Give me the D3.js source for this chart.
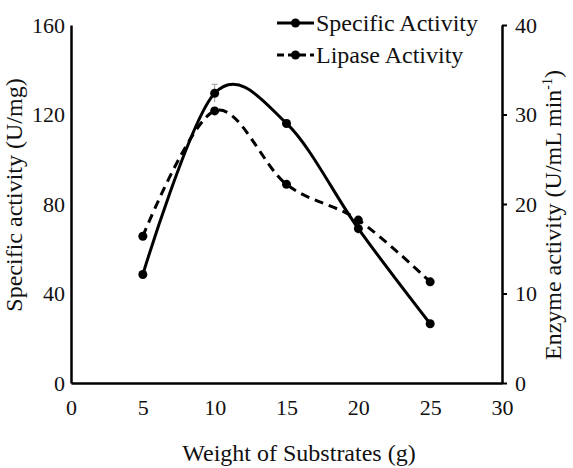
<!DOCTYPE html>
<html>
<head>
<meta charset="utf-8">
<script src="https://cdn.jsdelivr.net/npm/d3@7"></script>
<style>
  body { margin: 0; background: #fff; }
</style>
</head>
<body>
<script>
// data
const weights = [5, 10, 15, 20, 25];
const specificActivity = [48.5, 129.5, 116, 69, 26.5];
const specificErr = [1, 4, 1.5, 2.5, 1];
const lipaseActivity = [16.4, 30.4, 22.2, 18.2, 11.3];
const xTicks = [0, 5, 10, 15, 20, 25, 30];
const yLeftTicks = [0, 40, 80, 120, 160];
const yRightTicks = [0, 10, 20, 30, 40];

const width = 573, height = 468;
const mLeft = 71, mRight = 502, mTop = 25, mBottom = 383;
const font = "'Liberation Serif'";
const fsTick = 22, fsTitle = 24;

const svg = d3.select("body").append("svg")
    .attr("width", width)
    .attr("height", height)
    .style("display", "block");

const x = d3.scaleLinear([0, 30], [mLeft, mRight]);
const yL = d3.scaleLinear([0, 160], [mBottom, mTop]);
const yR = d3.scaleLinear([0, 40], [mBottom, mTop]);

function styleTicks(g) {
    g.attr("font-family", null);
    g.selectAll("text")
        .attr("font-size", fsTick)
        .attr("fill", "#111")
        .style("font-family", font);
}

// axes
svg.append("g")
    .attr("transform", `translate(0,${mBottom})`)
    .call(d3.axisBottom(x).tickValues(xTicks).tickSize(0).tickPadding(16))
    .call(g => g.select(".domain").attr("stroke-width", 2.5))
    .call(styleTicks);

svg.append("g")
    .attr("transform", `translate(${mLeft},0)`)
    .call(d3.axisLeft(yL).tickValues(yLeftTicks).tickSize(0).tickPadding(6))
    .call(g => g.select(".domain").attr("stroke-width", 2.5))
    .call(styleTicks);

svg.append("g")
    .attr("transform", `translate(${mRight},0)`)
    .call(d3.axisRight(yR).tickValues(yRightTicks).tickSize(5).tickSizeOuter(0).tickPadding(8))
    .call(g => g.select(".domain").attr("stroke-width", 2.5))
    .call(g => g.selectAll(".tick line").attr("stroke-width", 2))
    .call(styleTicks);

// axis titles
svg.append("text")
    .attr("x", 299)
    .attr("y", 461)
    .attr("text-anchor", "middle")
    .attr("font-size", fsTitle)
    .attr("fill", "#111")
    .style("font-family", font)
    .text("Weight of Substrates (g)");

svg.append("text")
    .attr("transform", "translate(22,195) rotate(-90)")
    .attr("text-anchor", "middle")
    .attr("font-size", fsTitle)
    .attr("fill", "#111")
    .style("font-family", font)
    .text("Specific activity (U/mg)");

const rt = svg.append("text")
    .attr("transform", "translate(561,215) rotate(-90)")
    .attr("text-anchor", "middle")
    .attr("font-size", fsTitle)
    .attr("fill", "#111")
    .style("font-family", font);
rt.append("tspan").text("Enzyme activity (U/mL min");
rt.append("tspan").attr("font-size", 14).attr("dy", -9).text("-1");
rt.append("tspan").attr("dy", 9).text(")");

// series
const spec = weights.map((w, i) => ({x: w, y: specificActivity[i], e: specificErr[i]}));
const lip = weights.map((w, i) => ({x: w, y: lipaseActivity[i]}));

// error bars
const eb = svg.append("g").attr("stroke", "#999").attr("stroke-width", 1);
spec.forEach(d => {
    eb.append("line").attr("x1", x(d.x)).attr("x2", x(d.x)).attr("y1", yL(d.y + d.e)).attr("y2", yL(d.y - d.e));
    eb.append("line").attr("x1", x(d.x) - 3).attr("x2", x(d.x) + 3).attr("y1", yL(d.y + d.e)).attr("y2", yL(d.y + d.e));
});

svg.append("path")
    .datum(lip)
    .attr("fill", "none")
    .attr("stroke", "#000")
    .attr("stroke-width", 3)
    .attr("stroke-dasharray", "9,6")
    .attr("d", d3.line().x(d => x(d.x)).y(d => yR(d.y)).curve(d3.curveCatmullRom.alpha(0)));

svg.append("path")
    .datum(spec)
    .attr("fill", "none")
    .attr("stroke", "#000")
    .attr("stroke-width", 3)
    .attr("d", d3.line().x(d => x(d.x)).y(d => yL(d.y)).curve(d3.curveCatmullRom.alpha(0)));

svg.append("g").selectAll("circle").data(lip).join("circle")
    .attr("cx", d => x(d.x)).attr("cy", d => yR(d.y)).attr("r", 4.5).attr("fill", "#000");
svg.append("g").selectAll("circle").data(spec).join("circle")
    .attr("cx", d => x(d.x)).attr("cy", d => yL(d.y)).attr("r", 4.5).attr("fill", "#000");

// legend
const legend = [
    {label: "Specific Activity", dash: null, y: 23},
    {label: "Lipase Activity", dash: "7,4", y: 55}
];
const lg = svg.append("g");
legend.forEach(l => {
    lg.append("line").attr("x1", 277).attr("x2", 314).attr("y1", l.y).attr("y2", l.y)
        .attr("stroke", "#000").attr("stroke-width", 3).attr("stroke-dasharray", l.dash);
    lg.append("circle").attr("cx", 295.5).attr("cy", l.y).attr("r", 4.5).attr("fill", "#000");
    lg.append("text").attr("x", 316).attr("y", l.y + 8)
        .attr("font-size", fsTitle).attr("fill", "#111")
        .style("font-family", font)
        .text(l.label);
});
</script>
</body>
</html>
